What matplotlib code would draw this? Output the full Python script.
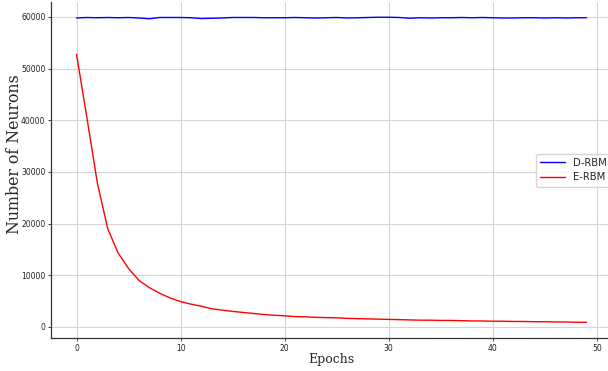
import matplotlib
matplotlib.use('Agg')
import matplotlib.pyplot as plt
import seaborn as sns
import numpy as np

sns.set_style('whitegrid')

# epochs and neuron counts per model
epochs = list(range(50))
d_rbm = [59800, 59900, 59850, 59900, 59850, 59900, 59800, 59650, 59900, 59900,
         59900, 59850, 59700, 59750, 59800, 59900, 59900, 59900, 59850, 59850,
         59850, 59900, 59850, 59800, 59850, 59900, 59800, 59850, 59900, 59950,
         59950, 59900, 59750, 59850, 59800, 59850, 59850, 59900, 59850, 59900,
         59850, 59800, 59800, 59850, 59850, 59800, 59850, 59800, 59850, 59850]
e_rbm = [52800, 40500, 27900, 19000, 14300, 11300, 9000, 7600, 6500, 5600,
         4900, 4400, 4000, 3500, 3250, 3000, 2800, 2600, 2400, 2250,
         2150, 2000, 1950, 1850, 1800, 1750, 1650, 1600, 1550, 1500,
         1450, 1400, 1350, 1300, 1300, 1250, 1250, 1200, 1150, 1150,
         1100, 1100, 1050, 1050, 1000, 1000, 950, 950, 900, 900]

fig = plt.figure(figsize=(6.08, 3.71), dpi=100)
ax = fig.add_axes([51/608, 33/371, 561/608, 336/371])

ax.plot(epochs, d_rbm, color='blue', lw=1.0, label='D-RBM')
ax.plot(epochs, e_rbm, color='red', lw=1.0, label='E-RBM')

ax.set_xlim(-2.45, 51.45)
ax.set_ylim(-2150, 62900)
ax.set_xticks([0, 10, 20, 30, 40, 50])
ax.set_yticks([0, 10000, 20000, 30000, 40000, 50000, 60000])
ax.tick_params(labelsize=5.5, length=2, width=0.6, pad=2, colors='#222222',
               left=True, bottom=True)
ax.grid(color='#d5d5d5', lw=0.8)

for s in ['top', 'right']:
    ax.spines[s].set_visible(False)
for s in ['left', 'bottom']:
    ax.spines[s].set_color('#333333')
    ax.spines[s].set_linewidth(0.9)

ax.set_xlabel('Epochs', family='DejaVu Serif', fontsize=9)
ax.set_ylabel('Number of Neurons', family='DejaVu Serif', fontsize=11.3)
ax.xaxis.set_label_coords(0.5, -0.045)
ax.yaxis.set_label_coords(-0.05, 0.548)

ax.legend(loc='center left', bbox_to_anchor=(0.855, 0.5), fontsize=7.2,
          frameon=True, handlelength=2.5)

fig.savefig('out.png', dpi=100)
